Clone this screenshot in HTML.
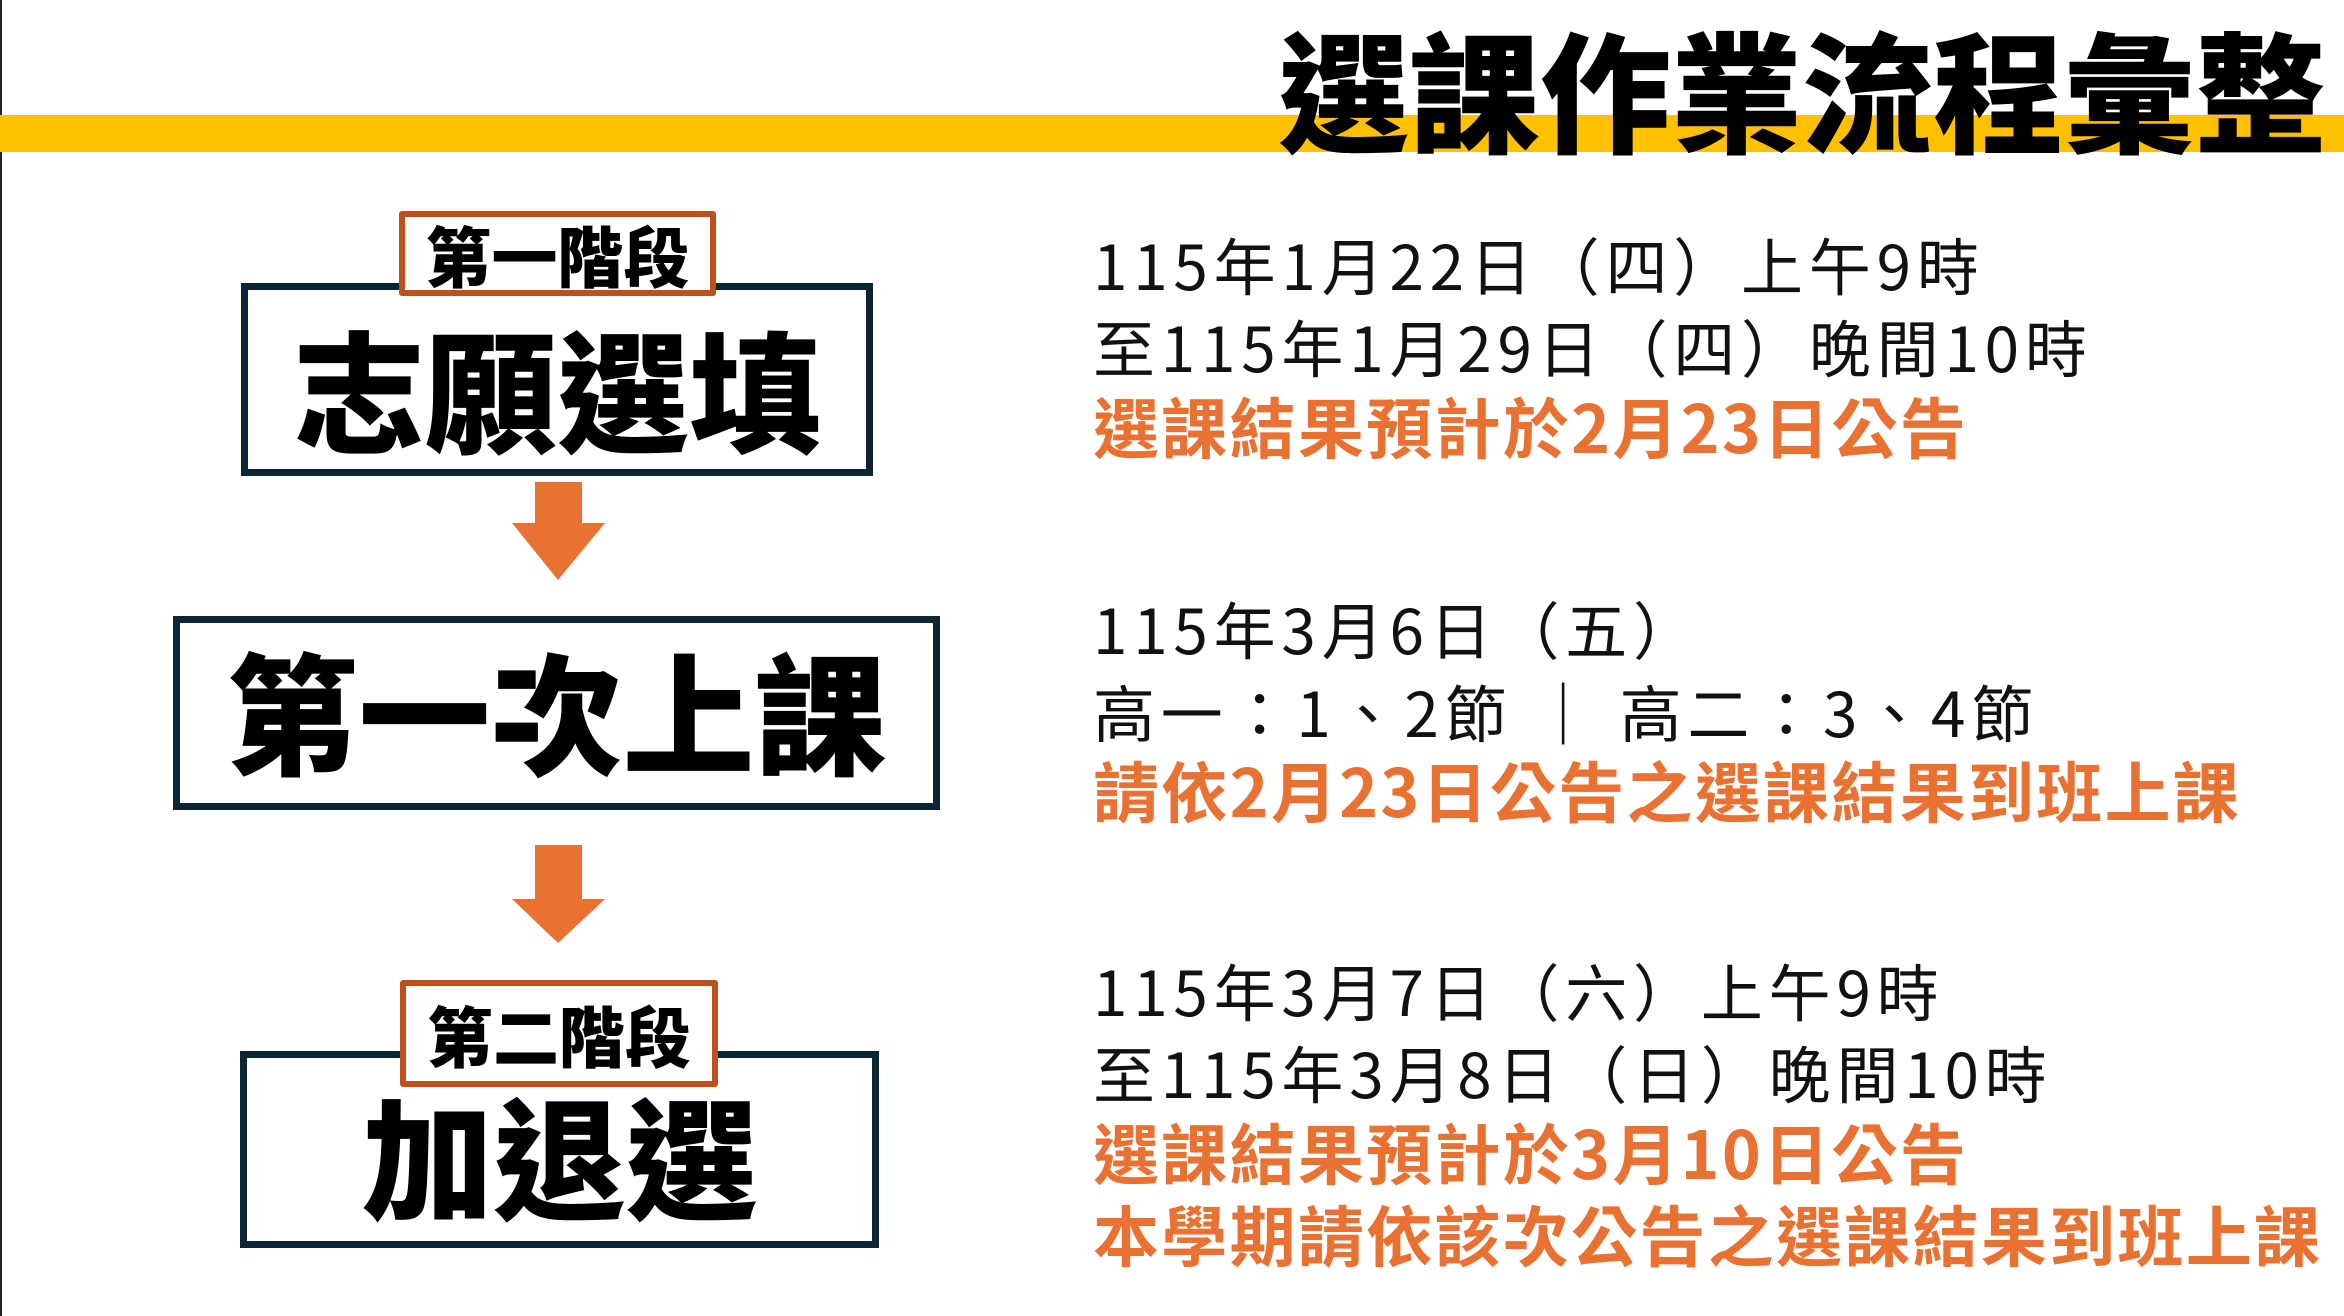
<!DOCTYPE html>
<html><head><meta charset="utf-8"><style>
*{margin:0;padding:0;box-sizing:border-box}
body{width:2344px;height:1316px;background:#fff;position:relative;overflow:hidden;font-family:"Liberation Sans","Noto Sans CJK TC",sans-serif}
.a{position:absolute}
.band{left:0;top:115px;width:2344px;height:37px;background:#FFC000}
.title{left:1278px;top:6px;font-size:131px;font-weight:900;line-height:160px;white-space:nowrap;color:#000;font-family:"Noto Sans CJK TC",sans-serif}
.box{border:7px solid #0B2534;background:#fff}
.lab{border:6px solid #C0501A;background:#fff;border-radius:3px;display:flex;align-items:center;justify-content:center;font-family:"Noto Sans CJK TC",sans-serif;font-weight:900;font-size:66px;color:#000}
.big{font-family:"Noto Sans CJK TC",sans-serif;font-weight:900;font-size:132px;line-height:150px;text-align:center;white-space:nowrap;color:#000}
.t{left:1093px;font-family:"Noto Sans CJK TC",sans-serif;font-size:62px;font-weight:400;letter-spacing:5.8px;line-height:82px;white-space:nowrap;color:#111}
.o{color:#E97132;font-weight:700;font-size:66px;letter-spacing:2.3px}
</style></head><body>
<div class="a" style="left:0;top:0;width:2px;height:1316px;background:#222"></div>
<div class="a band"></div>
<div class="a title">選課作業流程彙整</div>

<div class="a box" style="left:241px;top:283px;width:632px;height:193px"></div>
<div class="a big" style="left:241px;top:312px;width:632px">志願選填</div>
<div class="a lab" style="left:399px;top:211px;width:317px;height:85px">第一階段</div>

<svg class="a" style="left:0;top:0" width="2344" height="1316">
<rect x="535" y="482" width="47" height="42" fill="#E97132"/>
<polygon points="512,523 605,523 558,580" fill="#E97132"/>
<rect x="535" y="845" width="47" height="55" fill="#E97132"/>
<polygon points="512,899 605,899 558,943" fill="#E97132"/>
</svg>

<div class="a box" style="left:173px;top:616px;width:767px;height:194px"></div>
<div class="a big" style="left:173px;top:634px;width:767px">第一次上課</div>

<div class="a box" style="left:240px;top:1051px;width:639px;height:197px"></div>
<div class="a big" style="left:240px;top:1079px;width:639px">加退選</div>
<div class="a lab" style="left:400px;top:980px;width:318px;height:107px">第二階段</div>

<div class="a t" style="top:222px">115年1月22日（四）上午9時</div>
<div class="a t" style="top:304px">至115年1月29日（四）晚間10時</div>
<div class="a t o" style="top:384px">選課結果預計於2月23日公告</div>

<div class="a t" style="top:586px">115年3月6日（五）</div>
<div class="a t" style="top:669px">高一：1、2節 ｜ 高二：3、4節</div>
<div class="a t o" style="top:748px">請依2月23日公告之選課結果到班上課</div>

<div class="a t" style="top:948px">115年3月7日（六）上午9時</div>
<div class="a t" style="top:1030px">至115年3月8日（日）晚間10時</div>
<div class="a t o" style="top:1110px">選課結果預計於3月10日公告</div>
<div class="a t o" style="top:1192px">本學期請依該次公告之選課結果到班上課</div>
</body></html>
